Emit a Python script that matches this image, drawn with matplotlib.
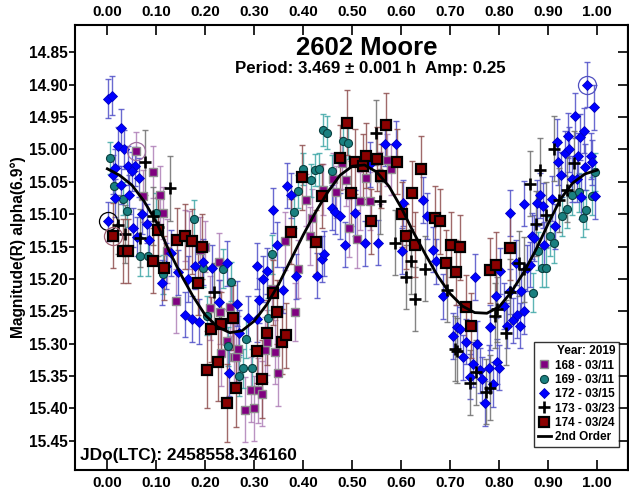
import matplotlib
matplotlib.use("Agg")
import matplotlib.pyplot as plt
from matplotlib.lines import Line2D

plt.rcParams['font.family'] = ['Liberation Sans', 'DejaVu Sans']
plt.rcParams['font.weight'] = 'bold'

# (phase, magnitude, error) per session
s168 = [
    (0.059, 15.003, 0.030), (0.073, 15.072, 0.040), (0.094, 15.035, 0.040), (0.108, 15.071, 0.045),
    (0.114, 15.098, 0.040), (0.121, 15.157, 0.050), (0.140, 15.234, 0.050), (0.159, 15.133, 0.040),
    (0.166, 15.140, 0.045), (0.189, 15.155, 0.050), (0.200, 15.150, 0.040), (0.210, 15.245, 0.050),
    (0.227, 15.174, 0.045), (0.231, 15.251, 0.050), (0.233, 15.315, 0.050), (0.244, 15.296, 0.050),
    (0.250, 15.243, 0.045), (0.254, 15.260, 0.050), (0.259, 15.320, 0.050), (0.262, 15.321, 0.050),
    (0.267, 15.308, 0.050), (0.281, 15.402, 0.050), (0.293, 15.371, 0.050), (0.300, 15.400, 0.050),
    (0.308, 15.372, 0.050), (0.316, 15.377, 0.050), (0.322, 15.309, 0.050), (0.325, 15.298, 0.050),
    (0.336, 15.215, 0.045), (0.342, 15.313, 0.050), (0.349, 15.346, 0.050), (0.363, 15.142, 0.045),
    (0.383, 15.251, 0.045), (0.390, 15.185, 0.045), (0.405, 15.078, 0.040), (0.414, 15.134, 0.045),
    (0.417, 15.106, 0.045), (0.440, 15.062, 0.040), (0.460, 15.046, 0.040), (0.467, 15.066, 0.040),
    (0.480, 15.021, 0.040), (0.488, 15.048, 0.040), (0.493, 15.121, 0.045), (0.509, 15.138, 0.045),
    (0.516, 15.080, 0.045), (0.529, 15.044, 0.040), (0.536, 15.080, 0.045), (0.556, 15.044, 0.040),
    (0.570, 15.016, 0.040), (0.580, 15.031, 0.040),
]

s169 = [
    (0.005, 15.013, 0.025), (0.014, 15.057, 0.025), (0.031, 15.076, 0.025), (0.040, 15.095, 0.025),
    (0.067, 15.165, 0.030), (0.084, 15.165, 0.030), (0.100, 15.098, 0.030), (0.114, 15.193, 0.030),
    (0.176, 15.108, 0.030), (0.195, 15.183, 0.030), (0.203, 15.257, 0.030), (0.236, 15.184, 0.030),
    (0.246, 15.304, 0.030), (0.252, 15.204, 0.030), (0.269, 15.350, 0.030), (0.278, 15.338, 0.030),
    (0.284, 15.292, 0.030), (0.295, 15.338, 0.030), (0.329, 15.260, 0.030), (0.336, 15.162, 0.030),
    (0.382, 15.097, 0.025), (0.390, 15.065, 0.025), (0.400, 15.030, 0.025), (0.415, 15.048, 0.025),
    (0.423, 15.032, 0.025), (0.433, 15.031, 0.025), (0.440, 14.970, 0.025), (0.449, 14.974, 0.025),
    (0.458, 15.034, 0.025), (0.482, 14.987, 0.025), (0.492, 14.990, 0.025),
    (0.869, 15.221, 0.030), (0.880, 15.157, 0.030), (0.887, 15.183, 0.030), (0.895, 15.183, 0.030),
    (0.903, 15.134, 0.030), (0.912, 15.145, 0.030), (0.929, 15.103, 0.030), (0.938, 15.092, 0.030),
    (0.948, 15.071, 0.030), (0.963, 15.066, 0.030), (0.971, 15.106, 0.030), (0.978, 15.093, 0.030),
    (0.989, 15.072, 0.030), (0.995, 15.035, 0.030),
]

s172 = [
    (0.002, 14.922, 0.030), (0.009, 14.917, 0.030), (0.027, 14.967, 0.030), (0.022, 14.995, 0.030),
    (0.034, 15.000, 0.030), (0.043, 15.025, 0.030), (0.057, 15.026, 0.030), (0.050, 15.034, 0.030),
    (0.065, 15.044, 0.030), (0.028, 15.055, 0.030), (0.016, 15.029, 0.030), (0.011, 15.039, 0.030),
    (0.016, 15.075, 0.030), (0.045, 15.070, 0.030), (0.070, 15.100, 0.030), (0.053, 15.121, 0.030),
    (0.002, 15.111, 0.030), (0.060, 15.135, 0.030), (0.080, 15.115, 0.030), (0.085, 15.140, 0.030),
    (0.111, 15.206, 0.035), (0.120, 15.180, 0.035), (0.130, 15.160, 0.035), (0.145, 15.190, 0.035),
    (0.159, 15.255, 0.035), (0.165, 15.200, 0.035), (0.173, 15.262, 0.035), (0.180, 15.180, 0.035),
    (0.187, 15.266, 0.035), (0.196, 15.174, 0.035), (0.213, 15.183, 0.035), (0.227, 15.236, 0.035),
    (0.244, 15.176, 0.035), (0.248, 15.345, 0.035), (0.264, 15.238, 0.035), (0.269, 15.283, 0.035),
    (0.288, 15.261, 0.035), (0.305, 15.262, 0.035), (0.305, 15.180, 0.035), (0.310, 15.233, 0.035),
    (0.318, 15.200, 0.035), (0.325, 15.188, 0.035), (0.339, 15.094, 0.035), (0.347, 15.147, 0.035),
    (0.359, 15.217, 0.035), (0.366, 15.056, 0.035), (0.374, 15.071, 0.035), (0.386, 15.196, 0.035),
    (0.429, 15.195, 0.035), (0.438, 15.169, 0.035), (0.442, 15.161, 0.035), (0.458, 15.090, 0.035),
    (0.465, 15.096, 0.035), (0.475, 15.103, 0.035), (0.485, 15.147, 0.035), (0.506, 15.098, 0.035),
    (0.526, 15.145, 0.035), (0.536, 15.023, 0.035), (0.553, 15.144, 0.035), (0.567, 14.991, 0.035),
    (0.589, 14.991, 0.035), (0.601, 15.157, 0.035), (0.604, 15.083, 0.035), (0.645, 15.078, 0.035),
    (0.652, 15.103, 0.035), (0.665, 15.155, 0.035), (0.671, 15.173, 0.035), (0.686, 15.227, 0.035),
    (0.705, 15.288, 0.035), (0.713, 15.275, 0.035), (0.720, 15.278, 0.035), (0.727, 15.321, 0.035),
    (0.733, 15.297, 0.035), (0.740, 15.351, 0.035), (0.747, 15.332, 0.035), (0.750, 15.197, 0.035),
    (0.755, 15.300, 0.035), (0.761, 15.341, 0.035), (0.764, 15.355, 0.035), (0.771, 15.392, 0.035),
    (0.780, 15.337, 0.035), (0.781, 15.275, 0.035), (0.788, 15.363, 0.035), (0.793, 15.226, 0.035),
    (0.796, 15.328, 0.035), (0.800, 15.337, 0.035), (0.801, 15.188, 0.035), (0.810, 15.242, 0.035),
    (0.816, 15.272, 0.035), (0.822, 15.219, 0.035), (0.822, 15.098, 0.035), (0.829, 15.264, 0.035),
    (0.834, 15.175, 0.035), (0.837, 15.256, 0.035), (0.842, 15.272, 0.035), (0.844, 15.219, 0.035),
    (0.850, 15.250, 0.035), (0.851, 15.084, 0.035), (0.857, 15.183, 0.035), (0.863, 15.178, 0.035),
    (0.866, 15.134, 0.035), (0.871, 15.137, 0.035), (0.878, 15.083, 0.035), (0.883, 15.071, 0.035),
    (0.890, 15.087, 0.035), (0.892, 15.147, 0.035), (0.907, 15.076, 0.035), (0.914, 15.119, 0.035),
    (0.918, 14.988, 0.035), (0.920, 15.020, 0.035), (0.926, 15.039, 0.035), (0.934, 15.006, 0.035),
    (0.940, 14.979, 0.035), (0.943, 15.000, 0.035), (0.948, 15.046, 0.035), (0.954, 14.948, 0.035),
    (0.958, 15.046, 0.035), (0.961, 15.010, 0.035), (0.966, 14.981, 0.035), (0.968, 15.073, 0.035),
    (0.973, 14.971, 0.035), (0.976, 15.027, 0.035), (0.980, 14.900, 0.035), (0.987, 15.010, 0.035),
    (0.989, 15.020, 0.035), (0.994, 14.935, 0.035), (0.995, 15.072, 0.035),
]

s173 = [
    (0.022, 15.116, 0.045), (0.036, 15.131, 0.045), (0.067, 15.137, 0.045), (0.077, 15.020, 0.050),
    (0.094, 15.103, 0.045), (0.104, 15.120, 0.045), (0.127, 15.060, 0.050), (0.218, 15.220, 0.045),
    (0.548, 14.974, 0.050), (0.556, 15.080, 0.050), (0.587, 15.144, 0.050), (0.610, 15.197, 0.050),
    (0.619, 15.173, 0.050), (0.629, 15.231, 0.050), (0.648, 15.184, 0.050), (0.693, 15.217, 0.050),
    (0.709, 15.308, 0.050), (0.714, 15.311, 0.050), (0.740, 15.360, 0.050), (0.752, 15.344, 0.050),
    (0.773, 15.374, 0.050), (0.782, 15.368, 0.050), (0.791, 15.257, 0.050), (0.795, 15.247, 0.050),
    (0.814, 15.283, 0.050), (0.822, 15.220, 0.050), (0.841, 15.176, 0.050), (0.850, 15.185, 0.050),
    (0.863, 15.053, 0.050), (0.875, 15.115, 0.050), (0.883, 15.032, 0.050), (0.895, 15.101, 0.050),
    (0.912, 14.999, 0.050), (0.922, 15.078, 0.050), (0.938, 15.062, 0.050), (0.952, 15.021, 0.050),
]

s174 = [
    (0.011, 15.133, 0.050), (0.033, 15.157, 0.050), (0.043, 15.157, 0.050), (0.093, 15.172, 0.050),
    (0.104, 15.124, 0.050), (0.116, 15.183, 0.050), (0.142, 15.140, 0.050), (0.159, 15.134, 0.050),
    (0.172, 15.142, 0.050), (0.186, 15.206, 0.050), (0.193, 15.150, 0.050), (0.204, 15.340, 0.060),
    (0.212, 15.278, 0.050), (0.225, 15.328, 0.060), (0.233, 15.270, 0.050), (0.245, 15.392, 0.060),
    (0.256, 15.260, 0.050), (0.263, 15.368, 0.060), (0.305, 15.311, 0.050), (0.315, 15.355, 0.060),
    (0.327, 15.283, 0.050), (0.338, 15.221, 0.050), (0.346, 15.251, 0.050), (0.356, 15.297, 0.050),
    (0.365, 15.287, 0.050), (0.376, 15.127, 0.050), (0.397, 15.043, 0.050), (0.426, 15.143, 0.050),
    (0.438, 15.072, 0.050), (0.476, 15.013, 0.050), (0.489, 14.959, 0.050), (0.497, 15.068, 0.050),
    (0.506, 15.019, 0.050), (0.521, 15.026, 0.050), (0.528, 15.010, 0.050), (0.538, 15.111, 0.050),
    (0.550, 15.015, 0.050), (0.558, 15.041, 0.050), (0.569, 14.963, 0.050), (0.591, 15.019, 0.050),
    (0.601, 15.100, 0.050), (0.610, 15.134, 0.050), (0.621, 15.068, 0.050), (0.628, 15.147, 0.050),
    (0.640, 15.030, 0.050), (0.669, 15.106, 0.050), (0.680, 15.111, 0.050), (0.691, 15.175, 0.050),
    (0.701, 15.147, 0.050), (0.712, 15.190, 0.050), (0.720, 15.151, 0.050), (0.732, 15.244, 0.050),
    (0.742, 15.272, 0.050), (0.782, 15.187, 0.050), (0.793, 15.178, 0.050), (0.822, 15.152, 0.050),
]

# 2nd order Fourier fit
fit_phase = [0.000, 0.025, 0.050, 0.075, 0.100, 0.125, 0.150, 0.175, 0.200, 0.225, 0.250,
             0.275, 0.300, 0.325, 0.350, 0.375, 0.400, 0.425, 0.450, 0.475, 0.500, 0.525,
             0.550, 0.575, 0.600, 0.625, 0.650, 0.675, 0.700, 0.725, 0.750, 0.775, 0.800,
             0.825, 0.850, 0.875, 0.900, 0.925, 0.950, 0.975, 1.000]
fit_mag = [15.030, 15.040, 15.055, 15.080, 15.112, 15.155, 15.193, 15.227, 15.256, 15.274, 15.283,
           15.280, 15.265, 15.240, 15.208, 15.170, 15.132, 15.097, 15.066, 15.040, 15.026, 15.024,
           15.035, 15.057, 15.090, 15.128, 15.163, 15.196, 15.223, 15.242, 15.252, 15.253, 15.243,
           15.220, 15.190, 15.155, 15.115, 15.077, 15.052, 15.038, 15.032]

# open circles around a few points
circled = [(0.002, 15.111, 'black'), (0.011, 15.133, '#a06070'),
           (0.059, 15.003, '#a070a0'), (0.980, 14.900, '#5050c0')]

sessions = [
    (s168, '168 - 03/11', dict(marker='s', ms=6.2, mfc='#800080', mec='#909090', mew=1.0), '#b080b8'),
    (s169, '169 - 03/11', dict(marker='o', ms=5.8, mfc='#1a8080', mec='#0a4040', mew=0.8), '#40a8a8'),
    (s172, '172 - 03/15', dict(marker='D', ms=4.6, mfc='#0000ff', mec='#0000c0', mew=0.6), '#5050c8'),
    (s173, '173 - 03/23', dict(marker='+', ms=9, mfc='black', mec='black', mew=1.9), '#707070'),
    (s174, '174 - 03/24', dict(marker='s', ms=6.6, mfc='#8b0000', mec='black', mew=1.6), '#905050'),
]

fig = plt.figure(figsize=(6.29, 4.91), dpi=100)
ax = fig.add_axes([75 / 629, 1 - 470 / 491, 553 / 629, 445 / 491])

handles = []
for data, label, style, ecol in sessions:
    ph, mag, err = zip(*data)
    ax.errorbar(ph, mag, yerr=err, fmt='none', ecolor=ecol, elinewidth=1.0,
                capsize=2.5, capthick=1.0, alpha=0.85, zorder=2)
    ax.plot(ph, mag, ls='none', zorder=3, **style)
    handles.append(Line2D([], [], ls='none', label=label, **style))

ax.plot(fit_phase, fit_mag, color='black', lw=2, zorder=4)
handles.append(Line2D([], [], color='black', lw=2, label='2nd Order'))

for ph, mag, col in circled:
    ax.plot(ph, mag, marker='o', ms=13, mfc='none', mec=col, mew=0.9, zorder=5)

ax.set_xlim(-0.066, 1.063)
ax.set_ylim(15.495, 14.808)
xt = [0.0, 0.1, 0.2, 0.3, 0.4, 0.5, 0.6, 0.7, 0.8, 0.9, 1.0]
yt = [14.85, 14.90, 14.95, 15.00, 15.05, 15.10, 15.15, 15.20, 15.25, 15.30, 15.35, 15.40, 15.45]
ax.set_xticks(xt)
ax.set_xticklabels([f'{v:.2f}' for v in xt])
ax.set_yticks(yt)
ax.set_yticklabels([f'{v:.2f}' for v in yt])
ax.tick_params(axis='x', direction='in', length=7, width=1.2, top=True, labeltop=True,
               labelsize=11, pad=4)
ax.tick_params(axis='y', direction='out', length=4, width=1.2, labelsize=11.2, pad=1.5)
right = ax.secondary_yaxis('right')
right.set_yticks(yt)
right.tick_params(direction='in', length=7, width=1.2, labelright=False)
for lab in ax.get_xticklabels() + ax.get_yticklabels():
    lab.set_fontweight('bold')
for sp in list(ax.spines.values()) + list(right.spines.values()):
    sp.set_linewidth(1.5)

ax.set_ylabel('Magnitude(R) alpha(6.9°)', fontsize=11.2, fontweight='bold')
ax.yaxis.set_label_coords(-0.088, 0.5)

ax.text(0.528, 0.948, '2602 Moore', transform=ax.transAxes, ha='center', va='center',
        fontsize=18.5, fontweight='bold')
ax.text(0.534, 0.903, 'Period: 3.469 ± 0.001 h  Amp: 0.25', transform=ax.transAxes,
        ha='center', va='center', fontsize=12.2, fontweight='bold')
ax.text(0.009, 0.032, 'JDo(LTC): 2458558.346160', transform=ax.transAxes, ha='left',
        va='center', fontsize=12.4, fontweight='bold')

leg = ax.legend(handles=handles, title='Year: 2019', loc='lower right',
                bbox_to_anchor=(0.983, 0.052), frameon=True, fancybox=False,
                edgecolor='black', fontsize=8.5, title_fontproperties={'weight': 'bold', 'size': 8.5},
                handlelength=1.1, handletextpad=0.4, labelspacing=0.2, borderpad=0.3,
                borderaxespad=0)
leg.get_frame().set_linewidth(1.0)
leg._legend_box.align = 'right'
for t in leg.get_texts():
    t.set_fontweight('bold')

fig.savefig('out.png', dpi=100)
